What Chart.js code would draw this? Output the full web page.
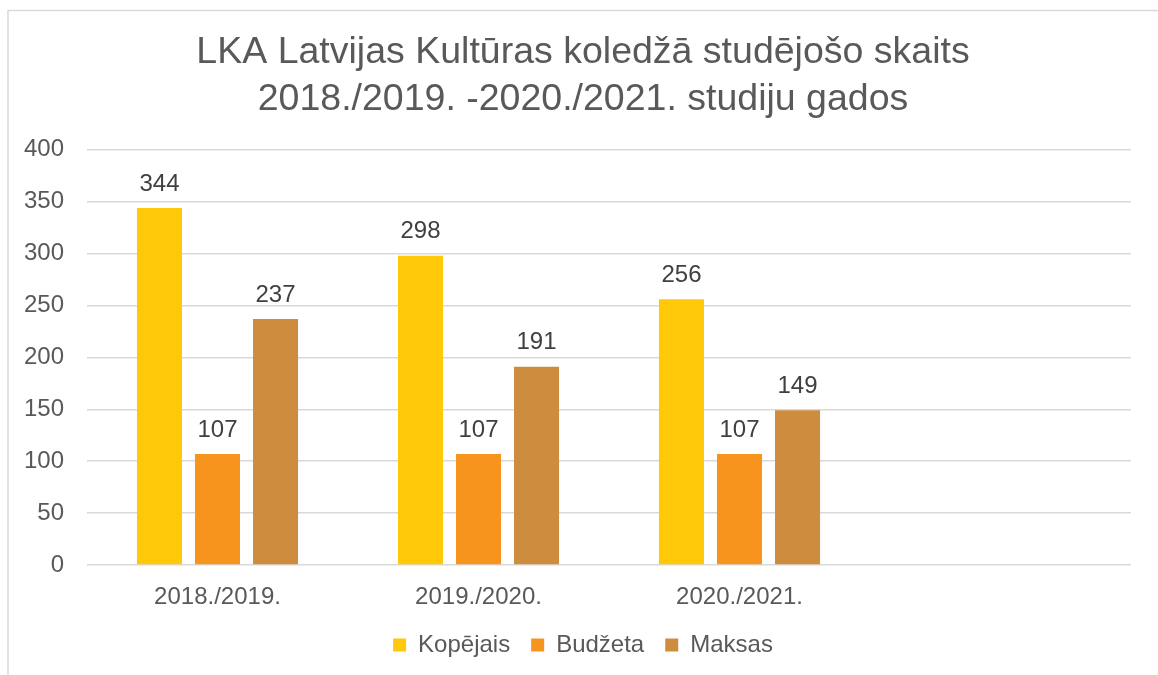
<!DOCTYPE html>
<html>
<head>
<meta charset="utf-8">
<script src="https://cdn.jsdelivr.net/npm/chart.js@4/dist/chart.umd.min.js"></script>
<style>
  html, body { margin: 0; padding: 0; background: #ffffff; }
  #wrap { width: 1158px; height: 675px; position: relative; }
</style>
</head>
<body>
<div id="wrap"><canvas id="c" width="1158" height="675"></canvas></div>
<script>
const titleLines = ['LKA Latvijas Kultūras koledžā studējošo skaits', '2018./2019. -2020./2021. studiju gados'];
const categories = ['2018./2019.', '2019./2020.', '2020./2021.', ''];
const seriesNames = ['Kopējais', 'Budžeta', 'Maksas'];
const kopejais = [344, 298, 256, null];
const budzeta = [107, 107, 107, null];
const maksas = [237, 191, 149, null];
const yTicks = [0, 50, 100, 150, 200, 250, 300, 350, 400];
const colors = ['#FFC90A', '#F7941E', '#CE8C3F'];

const FONT = "'Liberation Sans', Arial, sans-serif";

const borderPlugin = {
  id: 'frame',
  beforeDraw(chart) {
    const ctx = chart.ctx;
    ctx.save();
    ctx.fillStyle = '#ffffff';
    ctx.fillRect(0, 0, chart.width, chart.height);
    ctx.strokeStyle = '#d9d9d9';
    ctx.lineWidth = 1.5;
    ctx.beginPath();
    ctx.moveTo(8, chart.height + 2);
    ctx.lineTo(8, 10.5);
    ctx.lineTo(chart.width + 2, 10.5);
    ctx.stroke();
    ctx.restore();
  }
};

const valueLabels = {
  id: 'valueLabels',
  afterDatasetsDraw(chart) {
    const ctx = chart.ctx;
    ctx.save();
    ctx.font = '24px ' + FONT;
    ctx.fillStyle = '#404040';
    ctx.textAlign = 'center';
    ctx.textBaseline = 'middle';
    chart.data.datasets.forEach((ds, i) => {
      const meta = chart.getDatasetMeta(i);
      meta.data.forEach((bar, j) => {
        const v = ds.data[j];
        if (v === null || v === undefined) return;
        ctx.fillText(String(v), bar.x, bar.y - 24);
      });
    });
    ctx.restore();
  }
};

const series = [kopejais, budzeta, maksas];

new Chart(document.getElementById('c'), {
  type: 'bar',
  data: {
    labels: categories,
    datasets: seriesNames.map((name, i) => ({
      label: name,
      data: series[i],
      backgroundColor: colors[i],
      borderWidth: 0,
      categoryPercentage: 0.667,
      barPercentage: 0.776
    }))
  },
  options: {
    responsive: false,
    animation: false,
    devicePixelRatio: 1,
    layout: { padding: { left: 35, right: 27, top: 0, bottom: 8 } },
    plugins: {
      title: {
        display: true,
        text: titleLines,
        color: '#595959',
        font: { family: FONT, size: 37.5, weight: 'normal', lineHeight: 1.25 },
        padding: { top: 29, bottom: 27 }
      },
      legend: {
        position: 'bottom',
        labels: {
          color: '#595959',
          font: { family: FONT, size: 24 },
          boxWidth: 13,
          boxHeight: 13,
          padding: 21
        }
      },
      tooltip: { enabled: false }
    },
    scales: {
      x: {
        afterFit(scale) { scale.height = 47; },
        grid: { display: false, drawTicks: false },
        border: { display: false },
        ticks: {
          color: '#595959',
          font: { family: FONT, size: 24 },
          padding: 18,
          maxRotation: 0
        }
      },
      y: {
        min: 0,
        max: 400,
        afterFit(scale) {
          scale.width = 52;
          scale._computeLabelArea = function () { return undefined; };
        },
        afterBuildTicks(scale) { scale.ticks = yTicks.map(v => ({ value: v })); },
        grid: { color: '#d9d9d9', lineWidth: 1.5, drawTicks: false },
        border: { display: false },
        ticks: {
          color: '#595959',
          font: { family: FONT, size: 24 },
          padding: 23,
          stepSize: 50
        }
      }
    }
  },
  plugins: [borderPlugin, valueLabels]
});
</script>
</body>
</html>
